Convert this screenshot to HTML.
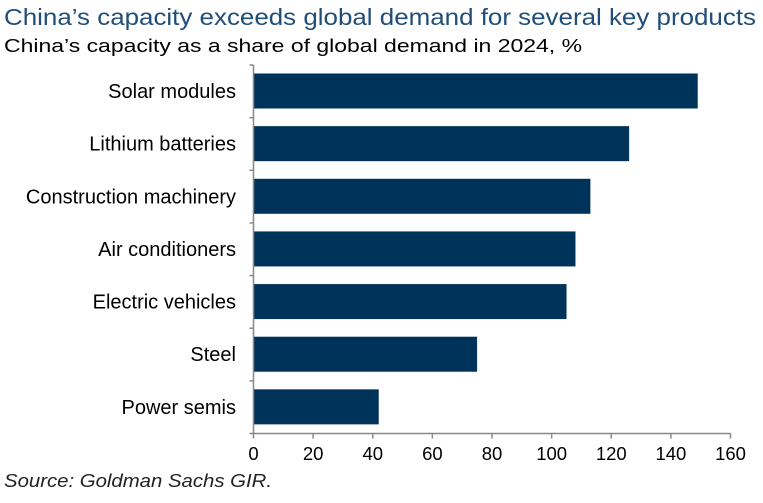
<!DOCTYPE html>
<html><head><meta charset="utf-8"><style>
body{margin:0;background:#fff;font-family:"Liberation Sans",sans-serif}
svg{display:block}
</style></head><body>
<svg width="763" height="503" viewBox="0 0 763 503">
<text x="4" y="25" font-size="23" fill="#1f4e79" textLength="752" lengthAdjust="spacingAndGlyphs">China’s capacity exceeds global demand for several key products</text>
<text x="4" y="52" font-size="18.5" fill="#000" textLength="578" lengthAdjust="spacingAndGlyphs">China’s capacity as a share of global demand in 2024, %</text>
<g id="plot"></g>
<text x="4" y="487" font-size="18.5" font-style="italic" fill="#222" textLength="268" lengthAdjust="spacingAndGlyphs">Source: Goldman Sachs GIR.</text>
</svg>
<script>
const categories=["Solar modules","Lithium batteries","Construction machinery","Air conditioners","Electric vehicles","Steel","Power semis"];
const values=[149,126,113,108,105,75,42];
const ticks=[0,20,40,60,80,100,120,140,160];
const X0=253.5,X1=730.5,Ytop=65,Ybot=433.5;
const x=v=>X0+(v-0)/(160-0)*(X1-X0);
const band=(Ybot-Ytop)/categories.length;
const y=i=>Ytop+i*band;
const g=document.getElementById('plot');const NS="http://www.w3.org/2000/svg";
function mk(t,a){const e=document.createElementNS(NS,t);for(const k in a)e.setAttribute(k,a[k]);g.appendChild(e);return e;}
categories.forEach((c,i)=>{
 const b=mk('rect',{x:X0,y:y(i)+8.5,width:x(values[i])-X0,height:35,fill:'#003359'});
 
 
 const t=mk('text',{x:236,y:y(i)+26+7,'font-size':20,'text-anchor':'end',fill:'#000'});t.textContent=c;
 
 
});
for(let i=0;i<=categories.length;i++){const l=mk('line',{x1:X0-4,x2:X0,y1:y(i),y2:y(i),stroke:'#888','stroke-width':1.5});
 
 }
const ya=mk('line',{x1:X0,x2:X0,y1:Ytop,y2:Ybot,stroke:'#888','stroke-width':1.5});


const xa=mk('line',{x1:X0,x2:X1,y1:Ybot,y2:Ybot,stroke:'#888','stroke-width':1.5});


ticks.forEach(v=>{
 const l=mk('line',{x1:x(v),x2:x(v),y1:Ybot,y2:Ybot+5,stroke:'#888','stroke-width':1.5});
 
 
 const t=mk('text',{x:x(v),y:460,'font-size':18.5,'text-anchor':'middle',fill:'#000'});t.textContent=v;
 
 
});
</script>
</body></html>
